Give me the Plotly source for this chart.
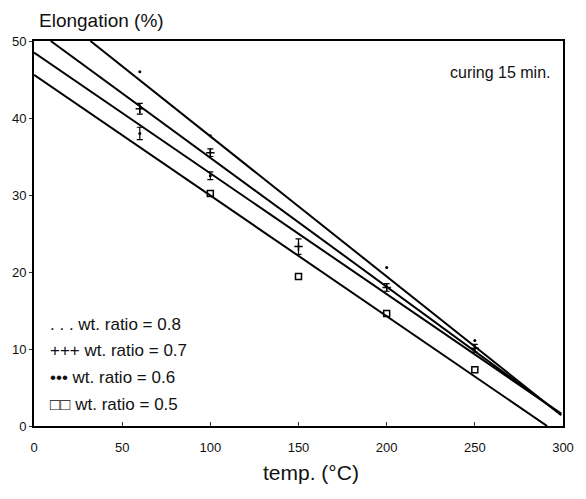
import plotly.graph_objects as go

# ---- data ----
series_names = ["wt. ratio = 0.8", "wt. ratio = 0.7", "wt. ratio = 0.6", "wt. ratio = 0.5"]
legend_marks = [". . .", "+++", "•••", "□□"]

# fitted lines (end points)
fit_x = [[32, 299], [9.5, 299], [0, 299], [0, 291]]
fit_y = [[50, 1.4], [50, 1.5], [48.5, 1.6], [45.6, 0]]

# measured points
pts_x_08 = [60, 100, 200, 250]
pts_y_08 = [46.0, 37.7, 20.6, 11.1]
pts_x_07 = [60, 100, 150, 200, 250]
pts_y_07 = [41.2, 35.5, 23.3, 18.0, 10.1]
pts_x_06 = [60, 100]
pts_y_06 = [38.0, 32.5]
pts_x_05 = [100, 150, 200, 250]
pts_y_05 = [30.2, 19.4, 14.6, 7.3]
err_07 = [0.7, 0.5, 1.0, 0.5, 0.5]
err_06 = [0.8, 0.5]

x_ticks = [0, 50, 100, 150, 200, 250, 300]
y_ticks = [0, 10, 20, 30, 40, 50]

FONT = "Liberation Sans, Arial, sans-serif"

fig = go.Figure()
for xs, ys in zip(fit_x, fit_y):
    fig.add_trace(go.Scatter(x=xs, y=ys, mode="lines",
                             line=dict(color="black", width=2), showlegend=False,
                             hoverinfo="skip"))

fig.add_trace(go.Scatter(x=pts_x_08, y=pts_y_08, mode="markers",
                         marker=dict(symbol="circle", size=3, color="black"),
                         name=series_names[0], showlegend=False))
fig.add_trace(go.Scatter(x=pts_x_07, y=pts_y_07, mode="markers",
                         marker=dict(symbol="cross-thin", size=6, color="black",
                                     line=dict(color="black", width=1.5)),
                         error_y=dict(type="data", array=err_07, color="black",
                                      thickness=1.2, width=3),
                         name=series_names[1], showlegend=False))
fig.add_trace(go.Scatter(x=pts_x_06, y=pts_y_06, mode="markers",
                         marker=dict(symbol="circle", size=3, color="black"),
                         error_y=dict(type="data", array=err_06, color="black",
                                      thickness=1.2, width=3),
                         name=series_names[2], showlegend=False))
fig.add_trace(go.Scatter(x=pts_x_05, y=pts_y_05, mode="markers",
                         marker=dict(symbol="square-open", size=6, color="black",
                                     line=dict(color="black", width=1.5)),
                         name=series_names[3], showlegend=False))

# plot-area geometry in pixels
L, R, T, B = 30, 574, 41, 426
W, H = 586, 499


def px(x):
    return (x - L) / (R - L)


def py(y):
    return (B - y) / (B - T)


annotations = [
    dict(text="Elongation (%)", x=px(33), y=py(20), xanchor="left", yanchor="middle",
         font=dict(size=19, family=FONT, color="#111")),
    dict(text="curing 15 min.", x=px(564), y=py(72), xanchor="right", yanchor="middle",
         font=dict(size=16, family=FONT, color="#111")),
    dict(text="temp. (°C)", x=px(315), y=py(472), xanchor="center", yanchor="middle",
         font=dict(size=21, family=FONT, color="#111")),
]
leg_y = [324, 350, 377, 404]
for mark, name, yy in zip(legend_marks, series_names, leg_y):
    annotations.append(dict(text=f"{mark} {name}", x=px(44), y=py(yy), xanchor="left",
                            yanchor="middle", font=dict(size=17, family=FONT, color="#111")))
for a in annotations:
    a.update(xref="paper", yref="paper", showarrow=False)

fig.update_layout(
    width=W, height=H,
    margin=dict(l=L, r=W - R, t=T, b=H - B),
    paper_bgcolor="white", plot_bgcolor="white",
    font=dict(family=FONT, color="#111"),
    annotations=annotations,
    showlegend=False,
    xaxis=dict(range=[0, 300], tickvals=x_ticks, ticks="inside", ticklen=4,
               tickcolor="#333", showgrid=False, zeroline=False, showline=True,
               linecolor="black", linewidth=2, mirror=True,
               tickfont=dict(size=13, family=FONT, color="#111"),
               ticklabelstandoff=8),
    yaxis=dict(range=[0, 50], tickvals=y_ticks, ticks="outside", ticklen=3,
               tickcolor="#333", showgrid=False, zeroline=False, showline=True,
               linecolor="black", linewidth=2, mirror=True,
               tickfont=dict(size=13, family=FONT, color="#111")),
)

fig.write_html("out.html")
